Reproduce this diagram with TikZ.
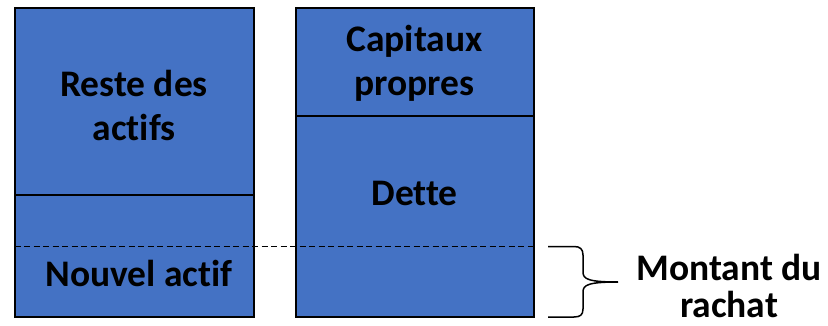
\documentclass[tikz,border=0pt]{standalone}
\usepackage{fontspec}
\setmainfont[Ligatures=NoCommon]{Carlito}
\begin{document}
\begin{tikzpicture}[x=1pt,y=-1pt,
  block/.style={draw=black,line width=2pt,fill=blockblue},
  lbl/.style={font=\fontsize{37.5}{44}\selectfont\bfseries,text=black,inner sep=0pt,anchor=base,align=center},
  sep/.style={draw=black,line width=2pt},
  cut/.style={draw=black,line width=1.6pt,dash pattern=on 6pt off 3.5pt},
  brc/.style={draw=black,line width=1.5pt}]
\definecolor{blockblue}{HTML}{4472C4}
\useasboundingbox (0,0) rectangle (828,326);

% asset column
\path[block] (14.5,8) rectangle (253.5,317);
\draw[sep] (14.5,195.5) -- (253.5,195.5);
\node[lbl] (reste) at (134,97) {Reste des};
\node[lbl] (actifs) at (134,141) {actifs};
\node[lbl] (nouvel) at (139,286) {Nouvel actif};

% liabilities column
\path[block] (295.5,8) rectangle (534,317);
\draw[sep] (295.5,116) -- (534,116);
\node[lbl] (capitaux) at (414.5,52) {Capitaux};
\node[lbl] (propres) at (414.5,96) {propres};
\node[lbl] (dette) at (414.5,205) {Dette};

% repurchase level
\coordinate (cutL) at (14.5,246.5);
\coordinate (cutR) at (534,246.5);
\draw[cut] (cutL) -- (cutR);

% brace
\coordinate (bTop) at (548,246.5);
\coordinate (bBot) at (548,317);
\coordinate (bTip) at (618,282);
\draw[brc] (bTop) -- (574,246.5)
  .. controls (580,246.5) and (583,249) .. (583,255)
  -- (583,272)
  .. controls (583,279) and (588,282) .. (bTip)
  .. controls (588,282) and (583,285) .. (583,292)
  -- (583,309)
  .. controls (583,315) and (580,317) .. (574,317)
  -- (bBot);

\node[lbl] (montant) at (729,280) {Montant du};
\node[lbl] (rachat) at (729,317) {rachat};
\end{tikzpicture}
\end{document}
